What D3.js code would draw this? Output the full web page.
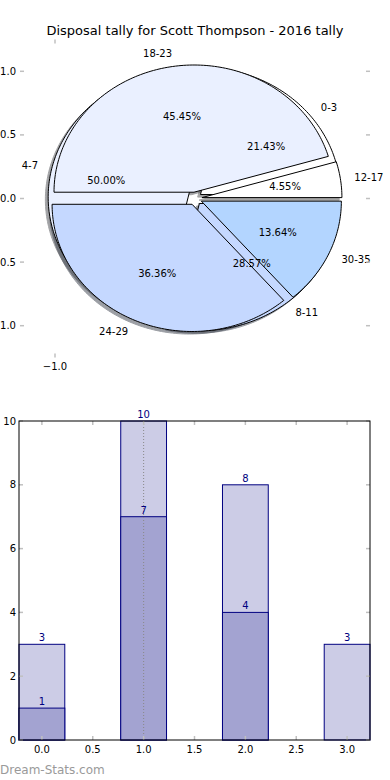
<!DOCTYPE html>
<html>
<head>
<meta charset="utf-8">
<script src="https://cdn.jsdelivr.net/npm/d3@7"></script>
<style>
  body { margin: 0; background: #fff; }
  svg { display: block; font-family: "DejaVu Sans", sans-serif; }
</style>
</head>
<body>
<div id="chart"></div>
<script>
// DATOS
const titleText = "Disposal tally for Scott Thompson - 2016 tally";

// pie de abajo (queda casi tapado)
const pieALabels = ["0-3", "4-7", "8-11"];
const pieAValues = [3, 7, 4];
const pieAColors = ["#ffffff", "#eaf0ff", "#c5d8ff"];

// pie de arriba
const pieBLabels = ["12-17", "18-23", "24-29", "30-35"];
const pieBValues = [1, 10, 8, 3];
const pieBColors = ["#ffffff", "#eaf0ff", "#c5d8ff", "#b3d5ff"];

const pieYTicks = [1.0, 0.5, 0.0, -0.5, -1.0];
const pieXTicks = [-1.0];

// barras
const barCats = [0, 1, 2, 3];
const barTotals = [3, 10, 8, 3];
const barParts = [1, 7, 4, null];
const barXTicks = [0, 0.5, 1, 1.5, 2, 2.5, 3];
const barYTicks = [0, 2, 4, 6, 8, 10];

const W = 390, H = 780;
const TICK = "#c0c0c0";
const NAVY = "#000080";

const svg = d3.select("#chart").append("svg").attr("width", W).attr("height", H);

svg.append("text")
  .attr("x", 195).attr("y", 35)
  .attr("text-anchor", "middle")
  .style("font-size", "13px").style("fill", "#000")
  .text(titleText);

// ---------- PIE ----------
const px = d3.scaleLinear().domain([-1.25, 1.25]).range([20, 370]);
const py = d3.scaleLinear().domain([-1.25, 1.25]).range([357.5, 39.5]);
const explode = 0.05;
const line = d3.line().x(d => px(d[0])).y(d => py(d[1]));

function wedgePts(cx, cy, t1, t2) {
  const pts = [[cx, cy]];
  const n = Math.max(8, Math.ceil((t2 - t1) / 0.02));
  for (let k = 0; k <= n; k++) {
    const t = t1 + (t2 - t1) * k / n;
    pts.push([cx + Math.cos(t), cy + Math.sin(t)]);
  }
  return pts;
}

function buildPie(labels, values, colors) {
  const total = d3.sum(values);
  let a = 0;
  return values.map((v, i) => {
    const t1 = a * 2 * Math.PI;
    a += v / total;
    const t2 = a * 2 * Math.PI;
    const tm = (t1 + t2) / 2;
    const cx = explode * Math.cos(tm), cy = explode * Math.sin(tm);
    return { label: labels[i], pct: v / total * 100, color: colors[i], t1, t2, tm, cx, cy };
  });
}

const pieA = buildPie(pieALabels, pieAValues, pieAColors);
const pieB = buildPie(pieBLabels, pieBValues, pieBColors);
const allW = pieA.concat(pieB);

const gPie = svg.append("g");

// sombras (debajo de todo)
gPie.selectAll("path.shadow").data(allW).enter().append("path")
  .attr("class", "shadow")
  .attr("d", d => line(wedgePts(d.cx - 0.02, d.cy - 0.02, d.t1, d.t2)) + "Z")
  .style("fill", d => { const c = d3.rgb(d.color); return d3.rgb(c.r * 0.3, c.g * 0.3, c.b * 0.3); })
  .style("stroke", d => { const c = d3.rgb(d.color); return d3.rgb(c.r * 0.3, c.g * 0.3, c.b * 0.3); })
  .style("stroke-width", 1)
  .style("opacity", 0.5);

[pieA, pieB].forEach((pie, j) => {
  gPie.selectAll("path.w" + j).data(pie).enter().append("path")
    .attr("class", "w" + j)
    .attr("d", d => line(wedgePts(d.cx, d.cy, d.t1, d.t2)) + "Z")
    .style("fill", d => d.color)
    .style("stroke", "#000")
    .style("stroke-width", 1)
    .style("stroke-linejoin", "round");
});

const fmt = d3.format(".2f");
gPie.selectAll("text.lbl").data(allW).enter().append("text")
  .attr("class", "lbl")
  .attr("x", d => px(d.cx + 1.1 * Math.cos(d.tm)))
  .attr("y", d => py(d.cy + 1.1 * Math.sin(d.tm)))
  .attr("dy", "0.35em")
  .attr("text-anchor", d => Math.cos(d.tm) > 0 ? "start" : "end")
  .style("font-size", "10px")
  .text(d => d.label);

gPie.selectAll("text.pct").data(allW).enter().append("text")
  .attr("class", "pct")
  .attr("x", d => px(d.cx + 0.6 * Math.cos(d.tm)))
  .attr("y", d => py(d.cy + 0.6 * Math.sin(d.tm)))
  .attr("dy", "0.35em")
  .attr("text-anchor", "middle")
  .style("font-size", "10px")
  .text(d => fmt(d.pct) + "%");

// ticks del pie (sin marco)
const pieAxis = svg.append("g");
pieYTicks.forEach(t => {
  pieAxis.append("line").attr("x1", 20).attr("x2", 24).attr("y1", py(t)).attr("y2", py(t))
    .style("stroke", TICK).style("stroke-width", 1.5);
  pieAxis.append("line").attr("x1", 366).attr("x2", 370).attr("y1", py(t)).attr("y2", py(t))
    .style("stroke", TICK).style("stroke-width", 1.5);
  pieAxis.append("text").attr("x", 16).attr("y", py(t)).attr("dy", "0.35em")
    .attr("text-anchor", "end").style("font-size", "10px")
    .text(d3.format(".1f")(t).replace("-", "\u2212"));
});
pieXTicks.forEach(t => {
  pieAxis.append("line").attr("x1", px(t)).attr("x2", px(t)).attr("y1", 39.5).attr("y2", 43.5)
    .style("stroke", TICK).style("stroke-width", 1.5);
  pieAxis.append("line").attr("x1", px(t)).attr("x2", px(t)).attr("y1", 353.5).attr("y2", 357.5)
    .style("stroke", TICK).style("stroke-width", 1.5);
  pieAxis.append("text").attr("x", px(t)).attr("y", 366).attr("dy", "0.35em")
    .attr("text-anchor", "middle").style("font-size", "10px")
    .text(d3.format(".1f")(t).replace("-", "\u2212"));
});

// ---------- BARRAS ----------
const L = 19, R = 370, T = 421, B = 740;
const bx = d3.scaleLinear().domain([-0.225, 3.225]).range([L, R]);
const by = d3.scaleLinear().domain([0, 10]).range([B, T]);
const bw = 0.45;

const gBar = svg.append("g");

gBar.selectAll("rect.tot").data(barCats).enter().append("rect")
  .attr("class", "tot")
  .attr("x", (d, i) => bx(d - bw / 2)).attr("width", bx(bw) - bx(0))
  .attr("y", (d, i) => by(barTotals[i])).attr("height", (d, i) => by(0) - by(barTotals[i]))
  .style("fill", "#ccccE6").style("stroke", NAVY).style("stroke-width", 1);

const parts = barCats.map((c, i) => ({ c, v: barParts[i] })).filter(d => d.v != null);
gBar.selectAll("rect.part").data(parts).enter().append("rect")
  .attr("class", "part")
  .attr("x", d => bx(d.c - bw / 2)).attr("width", bx(bw) - bx(0))
  .attr("y", d => by(d.v)).attr("height", d => by(0) - by(d.v))
  .style("fill", "#a3a3d1").style("stroke", NAVY).style("stroke-width", 1);

// linea punteada en x=1
gBar.append("line")
  .attr("x1", bx(1)).attr("x2", bx(1)).attr("y1", T).attr("y2", B)
  .style("stroke", "#888").style("stroke-width", 1).style("stroke-dasharray", "1,2");

gBar.selectAll("text.tot").data(barCats).enter().append("text")
  .attr("x", d => bx(d)).attr("y", (d, i) => by(barTotals[i]) - 3)
  .attr("text-anchor", "middle").style("font-size", "10px").style("fill", NAVY)
  .text((d, i) => barTotals[i]);

gBar.selectAll("text.part").data(parts).enter().append("text")
  .attr("x", d => bx(d.c)).attr("y", d => by(d.v) - 3)
  .attr("text-anchor", "middle").style("font-size", "10px").style("fill", NAVY)
  .text(d => d.v);

// ticks
barXTicks.forEach(t => {
  gBar.append("line").attr("x1", bx(t)).attr("x2", bx(t)).attr("y1", B).attr("y2", B - 4)
    .style("stroke", TICK).style("stroke-width", 1.5);
  gBar.append("line").attr("x1", bx(t)).attr("x2", bx(t)).attr("y1", T).attr("y2", T + 4)
    .style("stroke", TICK).style("stroke-width", 1.5);
  gBar.append("text").attr("x", bx(t)).attr("y", B + 9).attr("dy", "0.35em")
    .attr("text-anchor", "middle").style("font-size", "10px")
    .text(d3.format(".1f")(t));
});
barYTicks.forEach(t => {
  gBar.append("line").attr("x1", L).attr("x2", L + 4).attr("y1", by(t)).attr("y2", by(t))
    .style("stroke", TICK).style("stroke-width", 1.5);
  gBar.append("line").attr("x1", R - 4).attr("x2", R).attr("y1", by(t)).attr("y2", by(t))
    .style("stroke", TICK).style("stroke-width", 1.5);
  gBar.append("text").attr("x", L - 3).attr("y", by(t)).attr("dy", "0.35em")
    .attr("text-anchor", "end").style("font-size", "10px")
    .text(t);
});

gBar.append("rect")
  .attr("x", L).attr("y", T).attr("width", R - L).attr("height", B - T)
  .style("fill", "none").style("stroke", "#000").style("stroke-width", 1);

// marca de agua
svg.append("text")
  .attr("x", 0).attr("y", 774)
  .style("font-size", "12px").style("fill", "#9a9a9a")
  .text("Dream-Stats.com");
</script>
</body>
</html>
